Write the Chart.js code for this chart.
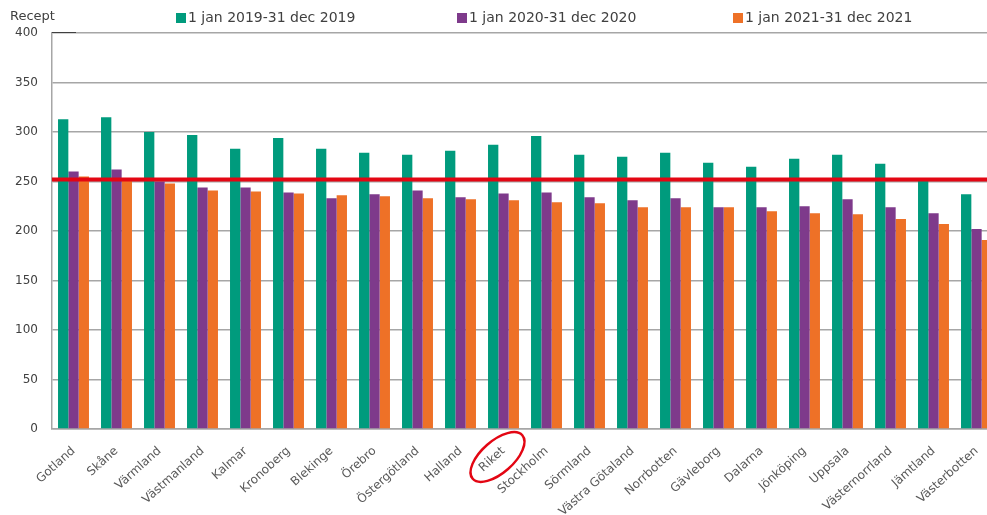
<!DOCTYPE html>
<html>
<head>
<meta charset="utf-8">
<script src="https://cdn.jsdelivr.net/npm/chart.js@4.4.0/dist/chart.umd.min.js"></script>
<style>
  html, body { margin: 0; padding: 0; background: #fff; overflow: hidden; }
  #wrap { width: 1000px; height: 515px; }
</style>
</head>
<body>
<div id="wrap"><canvas id="myChart" width="1000" height="515"></canvas></div>
<script>
// data
const categories = [
  "Gotland", "Skåne", "Värmland", "Västmanland", "Kalmar", "Kronoberg",
  "Blekinge", "Örebro", "Östergötland", "Halland", "Riket", "Stockholm",
  "Sörmland", "Västra Götaland", "Norrbotten", "Gävleborg", "Dalarna",
  "Jönköping", "Uppsala", "Västernorrland", "Jämtland", "Västerbotten",
];
const seriesLabels = [
  "1 jan 2019-31 dec 2019",
  "1 jan 2020-31 dec 2020",
  "1 jan 2021-31 dec 2021",
];
const values2019 = [313, 315, 300, 297, 283, 294, 283, 279, 277, 281, 287, 296, 277, 275, 279, 269, 265, 273, 277, 268, 252, 237];
const values2020 = [260, 262, 250, 244, 244, 239, 233, 237, 241, 234, 238, 239, 234, 231, 233, 224, 224, 225, 232, 224, 218, 202];
const values2021 = [255, 251, 248, 241, 240, 238, 236, 235, 233, 232, 231, 229, 228, 224, 224, 224, 220, 218, 217, 212, 207, 191];
const yTicks = [0, 50, 100, 150, 200, 250, 300, 350, 400];
const targetValue = 252;
const markedCategory = "Riket";
const yTitle = "Recept";

const colors = ["#009B7D", "#7E3A8B", "#EE7127"];
const font = '"DejaVu Sans", Verdana, sans-serif';

// legend + title drawn on top
const legendBoxes = {
  id: "legendBoxes",
  afterDraw(chart) {
    const ctx = chart.ctx;
    ctx.save();
    ctx.textBaseline = "middle";
    ctx.textAlign = "left";
    ctx.font = "13px " + font;
    ctx.fillStyle = "#404040";
    ctx.fillText(yTitle, 10, 17);

    // little dark piece of the legend frame at the top left
    ctx.strokeStyle = "#404040";
    ctx.lineWidth = 1;
    ctx.beginPath();
    ctx.moveTo(chart.chartArea.left, chart.chartArea.top - 0.5);
    ctx.lineTo(76, chart.chartArea.top - 0.5);
    ctx.stroke();

    ctx.font = "14px " + font;
    const starts = [176, 457, 733];
    chart.data.datasets.forEach((ds, i) => {
      ctx.fillStyle = ds.backgroundColor;
      ctx.fillRect(starts[i], 13, 10, 10);
      ctx.fillStyle = "#404040";
      ctx.fillText(ds.label, starts[i] + 12, 18);
    });
    ctx.restore();
  },
};

// red reference line + ellipse round "Riket"
const markers = {
  id: "markers",
  afterDatasetsDraw(chart) {
    const ctx = chart.ctx;
    const y = chart.scales.y;
    ctx.save();
    ctx.strokeStyle = "#E30613";
    ctx.lineWidth = 4;
    const py = y.getPixelForValue(targetValue);
    ctx.beginPath();
    ctx.moveTo(chart.chartArea.left, py);
    ctx.lineTo(chart.chartArea.right, py);
    ctx.stroke();
    ctx.restore();
  },
  afterDraw(chart) {
    const ctx = chart.ctx;
    const x = chart.scales.x;
    const idx = categories.indexOf(markedCategory);
    const cx = x.getPixelForValue(idx) - 6;
    const cy = x.top + 28;
    ctx.save();
    ctx.strokeStyle = "#E30613";
    ctx.lineWidth = 2.5;
    ctx.beginPath();
    ctx.ellipse(cx, cy, 33, 16, -0.72, 0, Math.PI * 2);
    ctx.stroke();
    ctx.restore();
  },
};

const ctx = document.getElementById("myChart");

const chart = new Chart(ctx, {
  type: "bar",
  data: {
    labels: categories,
    datasets: [
      { label: seriesLabels[0], data: values2019, backgroundColor: colors[0] },
      { label: seriesLabels[1], data: values2020, backgroundColor: colors[1] },
      { label: seriesLabels[2], data: values2021, backgroundColor: colors[2] },
    ],
  },
  options: {
    responsive: false,
    animation: false,
    devicePixelRatio: 1,
    layout: { padding: { top: 33, right: 2, left: 0, bottom: 0 } },
    datasets: {
      bar: { categoryPercentage: 0.72, barPercentage: 1 },
    },
    plugins: {
      legend: { display: false },
      tooltip: { enabled: false },
    },
    scales: {
      x: {
        grid: { display: false },
        border: { color: "#A6A6A6", width: 1.5 },
        ticks: {
          color: "#595959",
          font: { family: font, size: 12 },
          minRotation: 42,
          maxRotation: 42,
          padding: 7,
          autoSkip: false,
        },
        afterFit: (s) => { s.height = 86; },
      },
      y: {
        min: 0,
        max: 400,
        afterBuildTicks: (s) => { s.ticks = yTicks.map((v) => ({ value: v })); },
        grid: { color: "#A6A6A6", lineWidth: 1.5, drawTicks: false },
        border: { color: "#A6A6A6", width: 1.5 },
        ticks: {
          color: "#404040",
          font: { family: font, size: 12 },
          padding: 14,
        },
        afterFit: (s) => { s.width = 52; },
      },
    },
  },
  plugins: [markers, legendBoxes],
});
</script>
</body>
</html>
